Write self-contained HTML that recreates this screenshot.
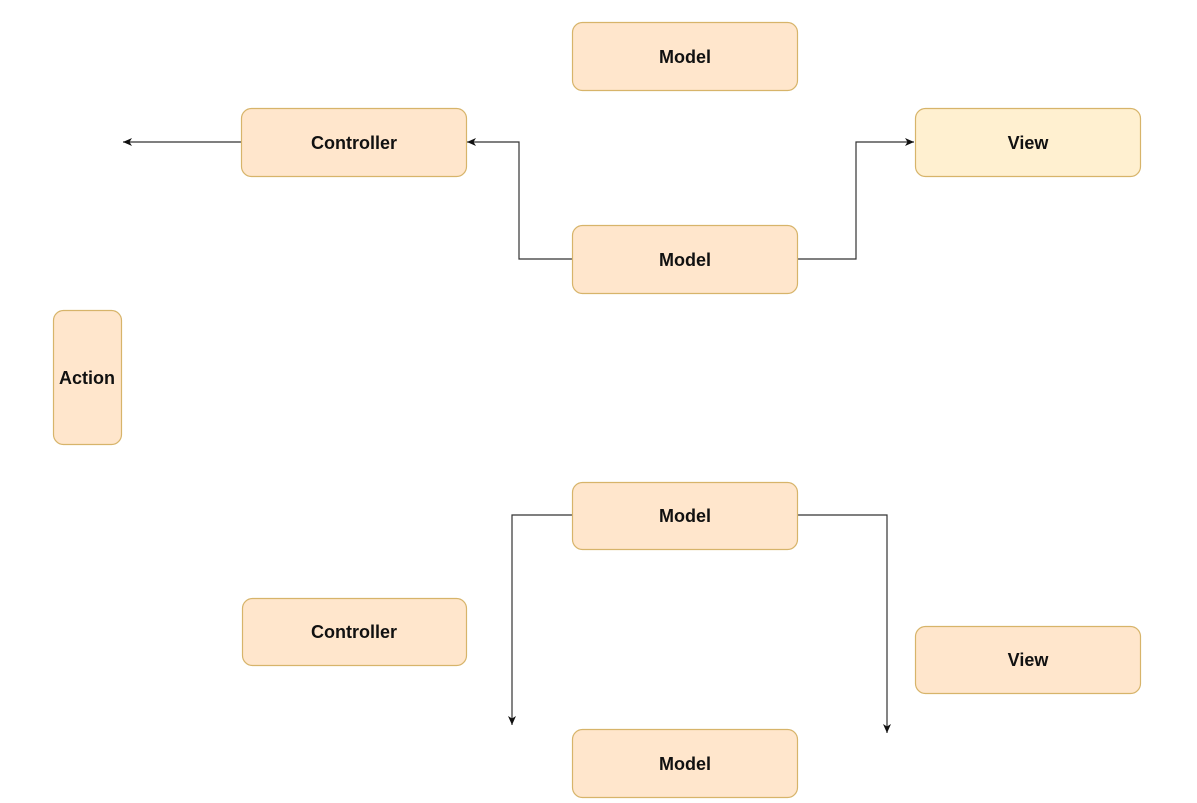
<!DOCTYPE html>
<html><head><style>body{margin:0;background:#fff}svg{display:block}</style></head><body>
<svg width="1197" height="803" xmlns="http://www.w3.org/2000/svg" font-family="Liberation Sans, sans-serif" font-weight="bold" font-size="18">
<defs><marker id="a" markerWidth="10" markerHeight="10" refX="9" refY="5" orient="auto" markerUnits="userSpaceOnUse"><path d="M0,1 L9,5 L0,9 L2.5,5 Z" fill="#111"/></marker></defs>
<g fill="none" stroke="#333" stroke-width="1.2" marker-end="url(#a)">
<path d="M241,142 H123"/>
<path d="M572,259 H519 V142 H467"/>
<path d="M797,259 H856 V142 H914"/>
<path d="M572,515 H512 V725"/>
<path d="M797,515 H887 V733"/>
</g>
<g stroke="#d7b46a" stroke-width="1.2" fill="#ffe6cc">
<rect x="572.5" y="22.5" width="225" height="68" rx="10"/>
<rect x="241.5" y="108.5" width="225" height="68" rx="10"/>
<rect x="915.5" y="108.5" width="225" height="68" rx="10" fill="#fff0d0"/>
<rect x="572.5" y="225.5" width="225" height="68" rx="10"/>
<rect x="53.5" y="310.5" width="68" height="134" rx="10"/>
<rect x="572.5" y="482.5" width="225" height="67" rx="10"/>
<rect x="242.5" y="598.5" width="224" height="67" rx="10"/>
<rect x="915.5" y="626.5" width="225" height="67" rx="10"/>
<rect x="572.5" y="729.5" width="225" height="68" rx="10"/>
</g>
<g fill="#111" text-anchor="middle">
<text x="685" y="63">Model</text>
<text x="354" y="149">Controller</text>
<text x="1028" y="149">View</text>
<text x="685" y="266">Model</text>
<text x="87" y="384">Action</text>
<text x="685" y="522">Model</text>
<text x="354" y="638">Controller</text>
<text x="1028" y="666">View</text>
<text x="685" y="770">Model</text>
</g>
</svg>
</body></html>
